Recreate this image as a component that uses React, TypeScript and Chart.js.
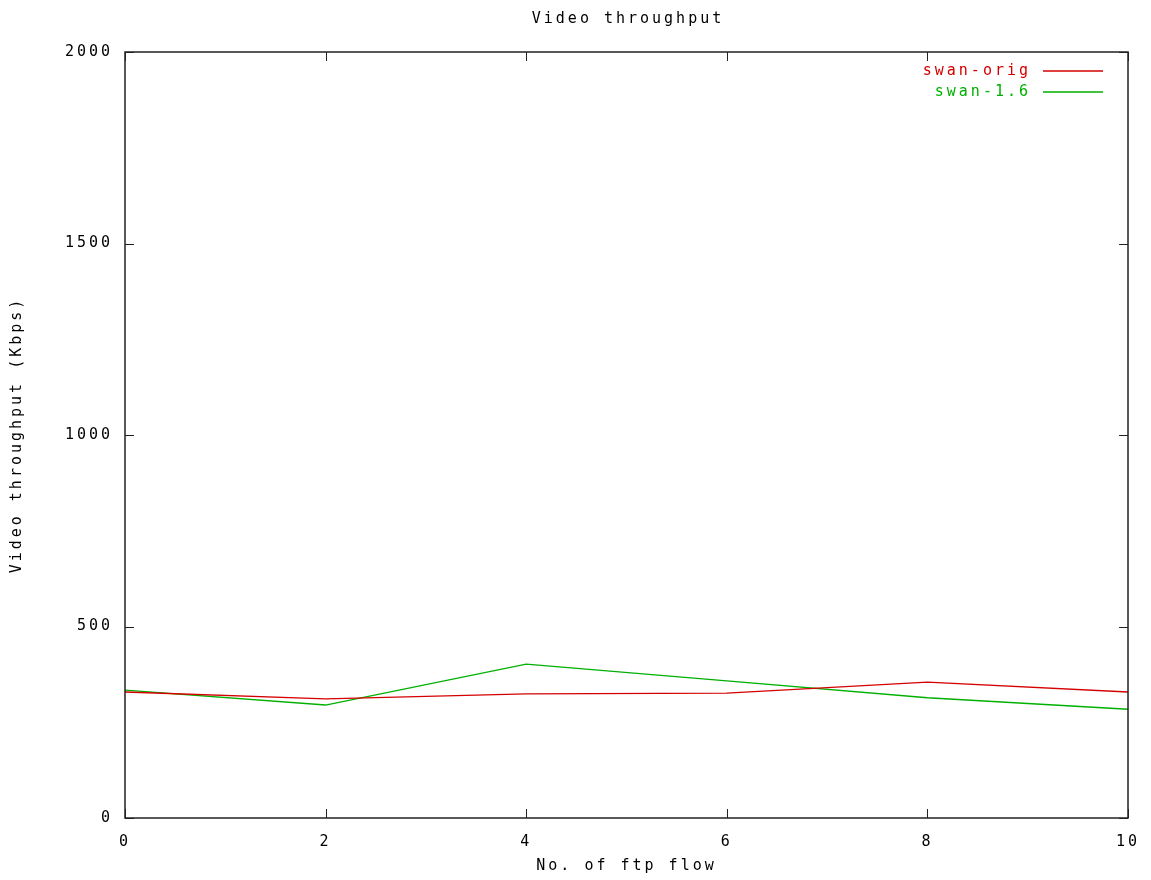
import React, { useEffect, useRef } from "react";
import { Chart, registerables } from "chart.js";

Chart.register(...registerables);

const flows = [0, 2, 4, 6, 8, 10];
const swanOrig = [329, 311, 324, 326, 355, 329];
const swan16 = [334, 295, 402, 358, 314, 284];
const seriesLabels = ["swan-orig", "swan-1.6"];
const seriesColors = ["#d40000", "#00b000"];
const yTicks = [0, 500, 1000, 1500, 2000];
const xTicks = [0, 2, 4, 6, 8, 10];
const chartTitle = "Video throughput";

const FONT = "'DejaVu Sans Mono', 'Liberation Mono', monospace";
const SPACING = "3px";

const spacingPlugin = {
  id: "spacing",
  beforeUpdate(chart: any) {
    chart.ctx.letterSpacing = SPACING;
  },
  beforeLayout(chart: any) {
    chart.ctx.letterSpacing = SPACING;
  },
  beforeDraw(chart: any) {
    chart.ctx.letterSpacing = SPACING;
  },
};

const framePlugin = {
  id: "frame",
  afterDatasetsDraw(chart: any) {
    const { ctx, chartArea: a, scales } = chart;
    ctx.save();
    ctx.letterSpacing = SPACING;
    ctx.strokeStyle = "#222";
    ctx.lineWidth = 1.5;
    ctx.strokeRect(a.left, a.top, a.right - a.left, a.bottom - a.top);
    ctx.lineWidth = 1;
    const tl = 9;
    ctx.beginPath();
    for (const v of yTicks) {
      const y = Math.round(scales.y.getPixelForValue(v)) + 0.5;
      ctx.moveTo(a.left, y);
      ctx.lineTo(a.left + tl, y);
      ctx.moveTo(a.right, y);
      ctx.lineTo(a.right - tl, y);
    }
    for (const v of xTicks) {
      const x = Math.round(scales.x.getPixelForValue(v)) + 0.5;
      ctx.moveTo(x, a.bottom);
      ctx.lineTo(x, a.bottom - tl);
      ctx.moveTo(x, a.top);
      ctx.lineTo(x, a.top + tl);
    }
    ctx.stroke();

    // title
    ctx.font = "15px " + FONT;
    ctx.fillStyle = "#000";
    ctx.textAlign = "center";
    ctx.textBaseline = "middle";
    ctx.fillText(chartTitle, (a.left + a.right) / 2 + 1.5, 19);

    // legend
    ctx.textAlign = "right";
    chart.data.datasets.forEach((ds: any, i: number) => {
      const y = a.top + 19 + i * 21;
      ctx.fillStyle = ds.borderColor;
      ctx.fillText(ds.label, a.right - 97, y);
      ctx.strokeStyle = ds.borderColor;
      ctx.lineWidth = 1.5;
      ctx.beginPath();
      ctx.moveTo(a.right - 85, y);
      ctx.lineTo(a.right - 25, y);
      ctx.stroke();
    });
    ctx.restore();
  },
};

export default function App() {
  const ref = useRef<HTMLCanvasElement>(null);
  useEffect(() => {
    const ctx = ref.current!.getContext("2d") as any;
    ctx.letterSpacing = SPACING;
    const chart = new Chart(ref.current!, {
      type: "line",
      data: {
        datasets: [
          {
            label: seriesLabels[0],
            data: flows.map((x, i) => ({ x, y: swanOrig[i] })),
            borderColor: seriesColors[0],
            borderWidth: 1.3,
            pointRadius: 0,
            tension: 0,
          },
          {
            label: seriesLabels[1],
            data: flows.map((x, i) => ({ x, y: swan16[i] })),
            borderColor: seriesColors[1],
            borderWidth: 1.3,
            pointRadius: 0,
            tension: 0,
          },
        ],
      },
      options: {
        animation: false,
        responsive: false,
        maintainAspectRatio: false,
        layout: { padding: { left: 0, right: 23, top: 52, bottom: 0 } },
        plugins: {
          legend: { display: false },
          tooltip: { enabled: false },
          title: { display: false },
        },
        scales: {
          x: {
            type: "linear",
            min: 0,
            max: 10,
            afterBuildTicks: (s: any) => {
              s.ticks = xTicks.map((v) => ({ value: v }));
            },
            afterFit: (s: any) => {
              s.height = 62;
            },
            grid: { display: false },
            border: { display: false },
            ticks: {
              color: "#000",
              font: { family: FONT, size: 15 },
              padding: 7,
              maxRotation: 0,
              callback: (v: any) => String(v),
            },
            title: {
              display: true,
              text: "No. of ftp flow",
              color: "#000",
              font: { family: FONT, size: 15 },
              padding: { top: 0, bottom: 5 },
            },
          },
          y: {
            type: "linear",
            min: 0,
            max: 2000,
            afterBuildTicks: (s: any) => {
              s.ticks = yTicks.map((v) => ({ value: v }));
            },
            afterFit: (s: any) => {
              s.width = 125;
            },
            grid: { display: false },
            border: { display: false },
            ticks: {
              color: "#000",
              font: { family: FONT, size: 15 },
              padding: 4,
              callback: (v: any) => String(v),
            },
            title: {
              display: true,
              text: "Video throughput (Kbps)",
              color: "#000",
              font: { family: FONT, size: 15 },
              padding: { top: 8, bottom: 0 },
            },
          },
        },
      },
      plugins: [spacingPlugin, framePlugin],
    });
    return () => chart.destroy();
  }, []);
  return (
    <div style={{ position: "fixed", left: 0, top: 0, width: 1151, height: 880, background: "#fff" }}>
      <canvas ref={ref} width={1151} height={880} style={{ width: 1151, height: 880 }} />
    </div>
  );
}
